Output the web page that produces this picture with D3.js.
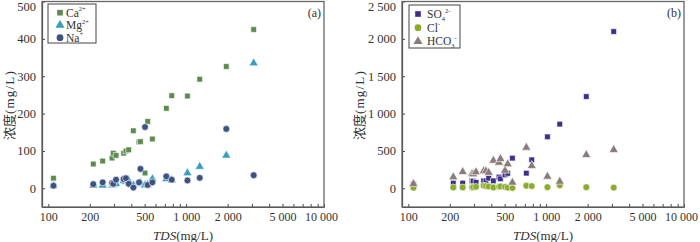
<!DOCTYPE html>
<html>
<head>
<meta charset="utf-8">
<script src="https://cdn.jsdelivr.net/npm/d3@7"></script>
<style>
  body { margin: 0; background: #fff; }
  svg { display: block; }
  text { font-family: "Liberation Serif", "DejaVu Serif", serif; fill: #333; }
</style>
</head>
<body>
<div class="svg-div"></div>
<script>
// sample TDS (mg/L), shared by both panels
var tds = [109, 212, 248, 290, 296, 310, 352, 366, 383, 414, 455, 466, 503, 526, 569, 718, 786, 1022, 1255, 1955, 3090];

// panel (a) cations, mg/L
var ca = [27, 65, 73, 81, 94, 88, 94, 100, 103, 154, 124, 125, 41, 179, 132, 214, 248, 247, 292, 326, 425];
var mg = [7, 8, 8, 8, 10, 12, 20, 18, 20, 8, 12, 15, 8, 10, 25, 25, 22, 41, 58, 88, 335];
var na = [7, 11, 16, 14, 12, 23, 25, 27, 12, 2, 16, 52, 164, 9, 16, 32, 23, 21, 28, 159, 35];

// panel (b) anions, mg/L
var so4 = [56, 70, 70, 100, 95, 80, 100, 100, 136, 100, 150, 127, 180, 200, 404, 203, 381, 689, 859, 1228, 2098];
var cl = [8, 12, 12, 15, 15, 20, 35, 30, 25, 12, 20, 25, 20, 10, 5, 35, 30, 15, 40, 15, 10];
var hco3 = [60, 150, 220, 194, 190, 218, 230, 230, 210, 372, 345, 395, 238, 324, 78, 546, 301, 158, 91, 448, 515];

// tick labels
var xTickLabels = [100, 200, 500, 1000, 2000, 5000, 10000];
var yTicksA = [0, 100, 200, 300, 400, 500];
var yTicksB = [0, 500, 1000, 1500, 2000, 2500];

var w = 700, h = 242;
var svg = d3.select(".svg-div").append("svg")
  .attr("width", w).attr("height", h);

// minor + major ticks on log axis
var xTicks = [];
[100, 1000].forEach(function(d) {
  for (var k = 1; k < 10; k++) xTicks.push(d * k);
});
xTicks.push(10000);

var fmt = function(d) { return d3.format(",")(d).replace(/,/g, " "); };

function panel(opt) {
  var g = svg.append("g").attr("transform", "translate(" + opt.left + ",0)");
  var pw = 282, top = 1.5, bottom = 207;

  var x = d3.scaleLog().domain([90, 10000]).range([0, pw]);
  var y = d3.scaleLinear().domain(opt.yDomain).range([bottom, top]);

  // x axis
  var xAxis = d3.axisBottom(x)
    .tickValues(xTicks)
    .tickSizeInner(-3).tickSizeOuter(0)
    .tickFormat(function(d) { return xTickLabels.indexOf(d) >= 0 ? fmt(d) : ""; });
  var gx = g.append("g").attr("transform", "translate(0," + bottom + ")").call(xAxis);
  gx.selectAll("text").attr("y", 5).attr("dy", "0.71em").style("font-size", "12px");
  gx.selectAll(".tick").filter(function(d) { return d === 10000; })
    .select("text").attr("dx", -3);

  var yAxis = d3.axisLeft(y)
    .tickValues(opt.yTicks)
    .tickSizeInner(-3).tickSizeOuter(0)
    .tickFormat(fmt);
  var gy = g.append("g").call(yAxis);
  gy.selectAll("text").attr("x", -6).style("font-size", "12.5px");
  // top label sits just inside the picture
  gy.selectAll(".tick").filter(function(d) { return d === opt.yTicks[opt.yTicks.length - 1]; })
    .select("text").attr("dy", "0.75em").attr("y", -0.5);

  g.selectAll(".domain").attr("stroke", "#444").attr("stroke-width", 1.2);
  g.selectAll(".tick line").attr("stroke", "#444");
  g.selectAll(".tick text").attr("fill", "#333").attr("font-family", "Liberation Serif");

  // frame
  g.append("rect")
    .attr("x", 0).attr("y", top)
    .attr("width", pw).attr("height", bottom - top)
    .attr("fill", "none").attr("stroke", "#666").attr("stroke-width", 1.3);

  // series
  opt.series.forEach(function(s) {
    var sym = d3.symbol().type(s.type).size(s.size);
    g.append("g").selectAll("path")
      .data(s.values)
      .enter()
      .append("path")
      .attr("transform", function(d, i) {
        return "translate(" + x(tds[i]) + "," + y(d) + ")";
      })
      .attr("d", sym)
      .attr("fill", s.color)
      .attr("stroke", "#fff")
      .attr("stroke-width", 0.6);
  });

  // legend
  var L = opt.legend;
  var lg = g.append("g").attr("transform", "translate(" + L.x + "," + L.y + ")");
  lg.append("rect")
    .attr("width", L.w).attr("height", L.h)
    .attr("fill", "#fff").attr("stroke", "#444").attr("stroke-width", 1);
  opt.series.forEach(function(s, i) {
    var yy = L.y0 + i * L.dy;
    lg.append("path")
      .attr("transform", "translate(" + L.mx + "," + yy + ")")
      .attr("d", d3.symbol().type(s.type).size(s.size)())
      .attr("fill", s.color);
    var t = lg.append("text").attr("x", L.tx).attr("y", yy + 4).style("font-size", "11.5px");
    t.append("tspan").text(s.name);
    if (s.sub) t.append("tspan").attr("dy", 2.5).style("font-size", "6.5px").text(s.sub);
    if (s.sup) t.append("tspan").attr("dy", s.sub ? -8 : -5.5).style("font-size", "6.5px").text(s.sup);
  });

  // panel tag
  g.append("text").attr("x", pw - 3).attr("y", 17)
    .attr("text-anchor", "end").style("font-size", "12px").text(opt.tag);

  // y label
  var yl = g.append("text")
    .attr("transform", "translate(" + opt.yLabelX + "," + 105 + ") rotate(-90)")
    .attr("text-anchor", "middle").attr("dy", "0.35em").style("font-size", "13px");
  yl.append("tspan").style("font-family", "Noto Sans CJK SC").text("浓度");
  yl.append("tspan").style("letter-spacing", "1.2px").text("(mg/L)");

  // x label
  var xl = g.append("text")
    .attr("x", pw / 2).attr("y", 240)
    .attr("text-anchor", "middle").style("font-size", "13px");
  xl.append("tspan").style("font-style", "italic").text("TDS");
  xl.append("tspan").text("(mg/L)");
}

panel({
  left: 42,
  yDomain: [-50, 500],
  yTicks: yTicksA,
  yLabelX: -33,
  tag: "(a)",
  legend: { x: 6, y: 4, w: 48, h: 39, y0: 8.7, dy: 12.5, mx: 12, tx: 18 },
  series: [
    { name: "Ca", sup: "2+", values: ca, type: d3.symbolSquare, size: 32, color: "#5d8a4f" },
    { name: "Mg", sup: "2+", values: mg, type: d3.symbolTriangle, size: 36, color: "#3a9cc0" },
    { name: "Na", sup: "+", values: na, type: d3.symbolCircle, size: 36, color: "#3d5183" }
  ]
});

panel({
  left: 402,
  yDomain: [-250, 2500],
  yTicks: yTicksB,
  yLabelX: -43,
  tag: "(b)",
  legend: { x: 7, y: 5, w: 51, h: 43, y0: 9, dy: 13.7, mx: 9, tx: 18 },
  series: [
    { name: "SO", sub: "4", sup: "2-", values: so4, type: d3.symbolSquare, size: 32, color: "#3f2f8b" },
    { name: "Cl", sup: "-", values: cl, type: d3.symbolCircle, size: 36, color: "#8aab2c" },
    { name: "HCO", sub: "3", sup: "-", values: hco3, type: d3.symbolTriangle, size: 36, color: "#8a7c7b" }
  ]
});
</script>
</body>
</html>
